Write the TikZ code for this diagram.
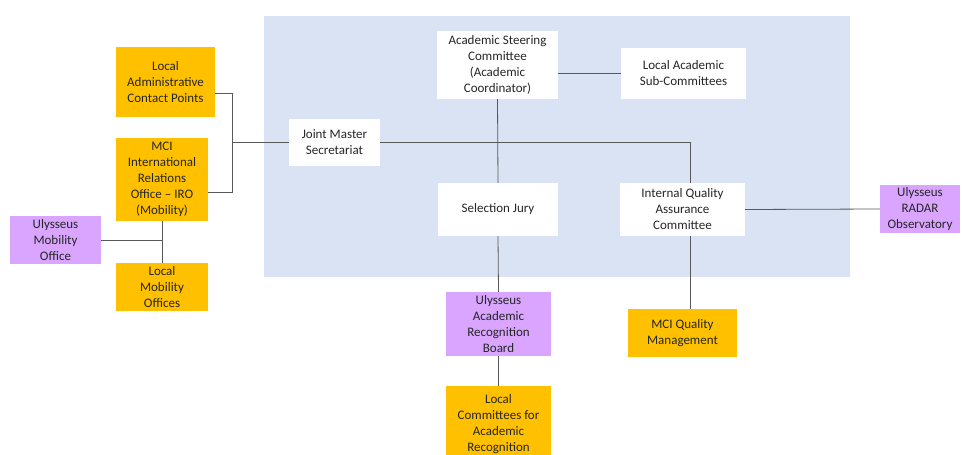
\documentclass[tikz,border=0pt]{standalone}
\usepackage{fontspec}
\setmainfont{Carlito}
\usetikzlibrary{positioning,calc}
\definecolor{mciorange}{RGB}{255,192,0}
\definecolor{ulypurple}{RGB}{217,165,255}
\definecolor{panelblue}{RGB}{218,227,243}
\definecolor{linkgray}{RGB}{89,89,89}

\begin{document}
\begin{tikzpicture}[x=1pt, y=-1pt,
    box/.style={align=center, inner sep=0pt, text=black!85, font=\fontsize{13}{16}\selectfont},
    mci/.style={box, fill=mciorange},
    uly/.style={box, fill=ulypurple},
    board/.style={box, fill=white},
    link/.style={draw=linkgray, line width=0.8pt}]
    \useasboundingbox (0,0) rectangle (962,455);

    % Joint master panel
    \fill[panelblue] (264,16) rectangle (850,277);

    % Boards inside the panel
    \node[board, minimum width=91pt, minimum height=47pt] (jms) at (334.5,142.5) {Joint Master\\Secretariat};
    \node[board, minimum width=121pt, minimum height=68pt] (asc) at (497.5,65) {Academic Steering\\Committee\\(Academic\\Coordinator)};
    \node[board, minimum width=125pt, minimum height=51pt] (lasc) at (683.5,73.5) {Local Academic\\Sub-Committees};
    \node[board, minimum width=120pt, minimum height=53pt] (sj) at (498,209.5) {Selection Jury};
    \node[board, minimum width=125pt, minimum height=53pt] (iqac) at (682.5,209.5) {Internal Quality\\Assurance\\Committee};

    % MCI offices
    \node[mci, minimum width=99pt, minimum height=70pt] (lacp) at (165.5,82) {Local\\Administrative\\Contact Points};
    \node[mci, minimum width=92pt, minimum height=83pt] (iro) at (162,179.5) {MCI\\International\\Relations\\Office -- IRO\\(Mobility)};
    \node[mci, minimum width=92pt, minimum height=48pt] (lmo) at (162,287) {Local\\Mobility\\Offices};
    \node[mci, minimum width=109pt, minimum height=48pt] (mciqm) at (682.5,333) {MCI Quality\\Management};
    \node[mci, minimum width=105pt, minimum height=76pt] (lcar) at (498.5,424) {Local\\Committees for\\Academic\\Recognition};

    % Ulysseus bodies
    \node[uly, minimum width=91pt, minimum height=48pt] (umo) at (55.5,240) {Ulysseus\\Mobility\\Office};
    \node[uly, minimum width=105pt, minimum height=64pt] (uarb) at (498.5,324) {Ulysseus\\Academic\\Recognition\\Board};
    \node[uly, minimum width=80pt, minimum height=48pt] (radar) at (920,209) {Ulysseus\\RADAR\\Observatory};

    % Links on the left
    \draw[link] (jms.west) -- ++(-56pt,0) coordinate (jl);
    \draw[link] ([yshift=-11pt]lacp.east) -| (jl) |- ([yshift=-12.5pt]iro.east);
    \draw[link] (iro.south) -- (lmo.north);
    \draw[link] (umo.east) -- (umo.east -| iro.south);

    % Links in the panel
    \draw[link] (jms.east) -| ([xshift=8pt]iqac.north);
    \draw[link] (asc.south) -- (sj.north);
    \draw[link] (asc.east |- lasc.west) -- (lasc.west);
    \draw[link] (iqac.east) -- (radar.west);

    % Links below the panel
    \draw[link] (sj.south) -- (uarb.north);
    \draw[link] (uarb.south) -- (lcar.north);
    \draw[link] ([xshift=8pt]iqac.south) -- ([xshift=8pt]iqac.south |- mciqm.north);
\end{tikzpicture}
\end{document}
